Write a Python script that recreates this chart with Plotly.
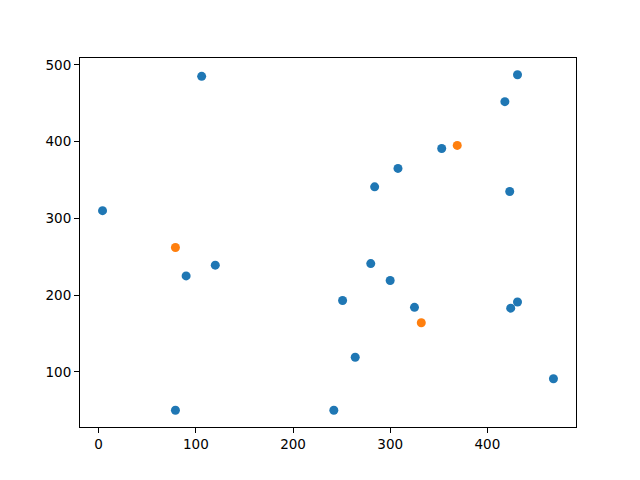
import plotly.graph_objects as go

blue_x = [4, 106, 431, 418, 353, 308, 284, 423, 120, 90, 79, 280, 300, 251, 325, 424, 431, 264, 468, 242]
blue_y = [310, 485, 487, 452, 391, 365, 341, 335, 239, 225, 50, 241, 219, 193, 184, 183, 191, 119, 91, 50]
orange_x = [369, 79, 332]
orange_y = [395, 262, 164]

x_ticks = [0, 100, 200, 300, 400]
y_ticks = [100, 200, 300, 400, 500]

all_x = blue_x + orange_x
all_y = blue_y + orange_y
def padded(vals, frac=0.05):
    lo, hi = min(vals), max(vals)
    d = (hi - lo) * frac
    return [lo - d, hi + d]

fig = go.Figure()
fig.add_trace(go.Scatter(x=blue_x, y=blue_y, mode="markers",
                         marker=dict(color="#1f77b4", size=9, line=dict(width=0))))
fig.add_trace(go.Scatter(x=orange_x, y=orange_y, mode="markers",
                         marker=dict(color="#ff7f0e", size=9, line=dict(width=0))))

axis_common = dict(showgrid=False, zeroline=False, showline=True, linecolor="black",
                   linewidth=1, mirror=True, ticks="outside", ticklen=5, tickwidth=1,
                   tickcolor="black", tickfont=dict(family="DejaVu Sans", size=13.5, color="black"))
fig.update_xaxes(range=padded(all_x), tickvals=x_ticks, **axis_common)
fig.update_yaxes(range=padded(all_y), tickvals=y_ticks, **axis_common)

# page body has an 8px margin; compensate so the plot area lands where the reference has it
fig.update_layout(width=632, height=472, showlegend=False,
                  plot_bgcolor="white", paper_bgcolor="white",
                  margin=dict(l=72, r=64, t=50, b=53))
fig.write_html("out.html")
